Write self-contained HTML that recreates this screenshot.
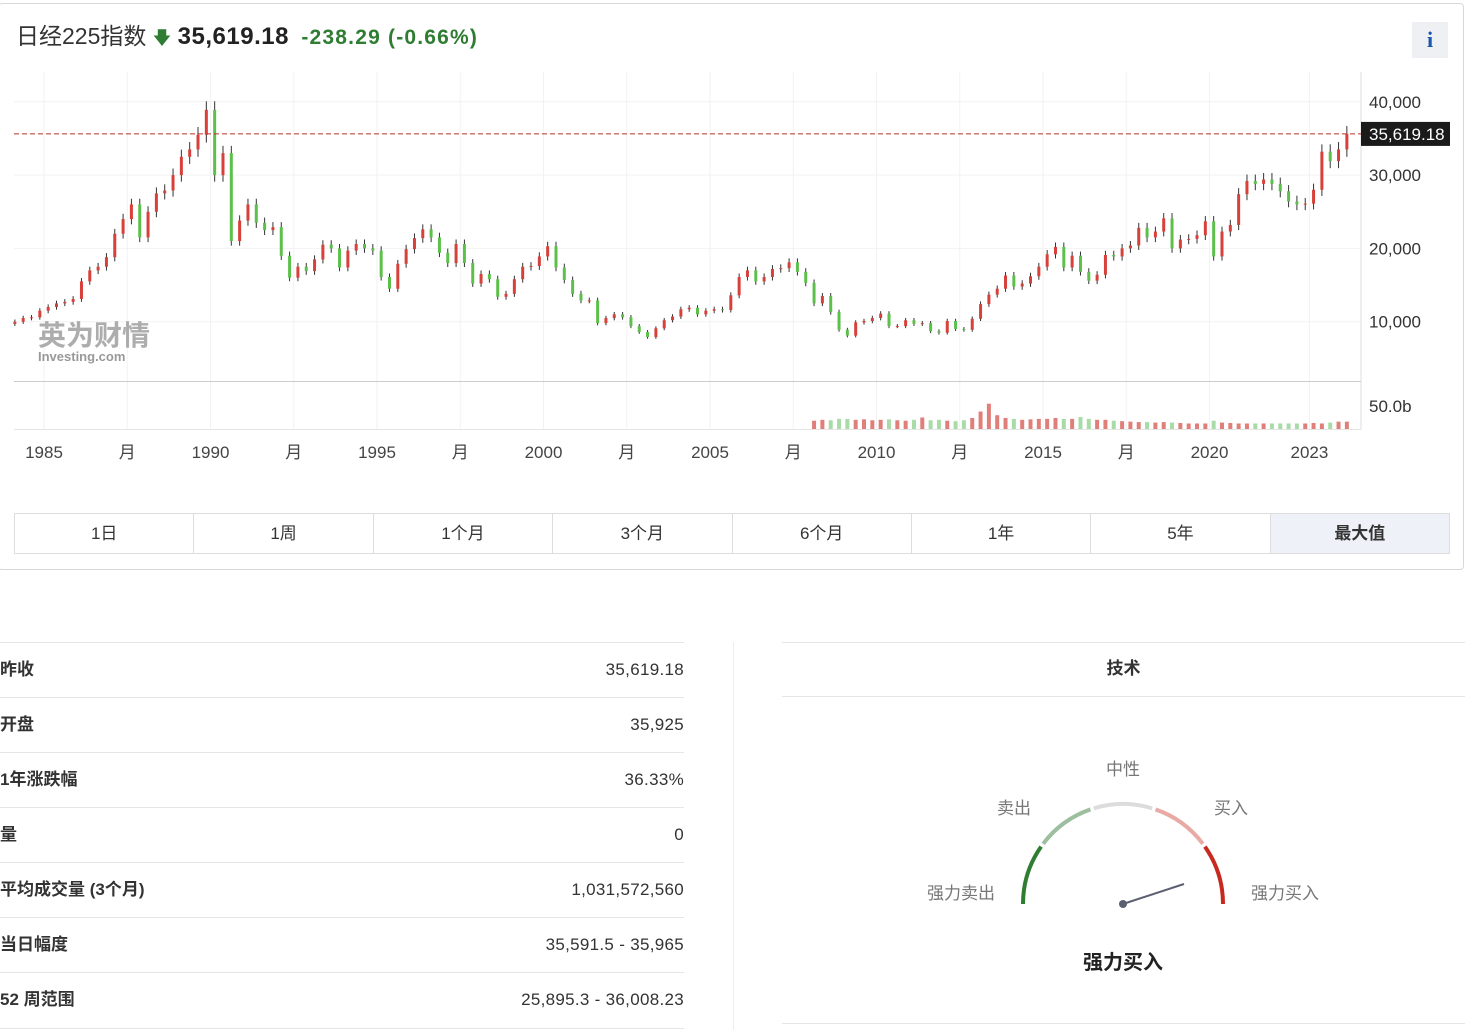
<!DOCTYPE html>
<html><head><meta charset="utf-8">
<style>
body{margin:0;width:1468px;height:1030px;background:#fff;font-family:"Liberation Sans","Noto Sans CJK SC",sans-serif;color:#333;position:relative;overflow:hidden}
.card{position:absolute;left:-2px;top:3px;width:1466px;height:567px;border:1px solid #d8d8d8;border-radius:4px;box-sizing:border-box}
.abs{position:absolute}
.btns{position:absolute;left:14px;top:513px;width:1436px;height:41px;display:flex;border:1px solid #ddd;box-sizing:border-box}
.btns div{flex:1;text-align:center;line-height:39px;font-size:17px;border-right:1px solid #ddd;color:#333}
.btns div:last-child{border-right:none;background:#eef2f8;font-weight:bold}
.row{position:absolute;left:0;width:684px;height:55px;border-top:1px solid #e6e6e6;font-size:17px;line-height:54px}
.row .k{position:absolute;left:0;font-weight:bold}
.row .v{position:absolute;right:0;letter-spacing:0.3px}
</style></head><body>
<div class="card"></div>
<div class="abs" style="left:16px;top:17px;font-size:23px;white-space:nowrap">
<span style="color:#333">日经225指数</span>
<span style="color:#2e7d32;font-size:18px">&#129095;</span>
<b style="color:#222;font-size:24px;letter-spacing:0.5px">35,619.18</b>
<b style="color:#2e7d32;font-size:21px;margin-left:6px;letter-spacing:1.2px">-238.29 (-0.66%)</b>
</div>
<div class="abs" style="left:1412px;top:22px;width:36px;height:36px;background:#eef0f3;color:#1a56b0;font:bold 22px 'Liberation Serif',serif;text-align:center;line-height:36px">i</div>

<svg class="abs" style="left:0;top:0" width="1468" height="480" id="chart"></svg>

<div class="btns">
<div>1日</div>
<div>1周</div>
<div>1个月</div>
<div>3个月</div>
<div>6个月</div>
<div>1年</div>
<div>5年</div>
<div>最大值</div>
</div>

<div>
<div class="row" style="top:642px"><span class="k">昨收</span><span class="v">35,619.18</span></div>
<div class="row" style="top:697px"><span class="k">开盘</span><span class="v">35,925</span></div>
<div class="row" style="top:752px"><span class="k">1年涨跌幅</span><span class="v">36.33%</span></div>
<div class="row" style="top:807px"><span class="k">量</span><span class="v">0</span></div>
<div class="row" style="top:862px"><span class="k">平均成交量 (3个月)</span><span class="v">1,031,572,560</span></div>
<div class="row" style="top:917px"><span class="k">当日幅度</span><span class="v">35,591.5 - 35,965</span></div>
<div class="row" style="top:972px;border-bottom:1px solid #e6e6e6"><span class="k">52 周范围</span><span class="v">25,895.3 - 36,008.23</span></div>
</div>
<div class="abs" style="left:733px;top:642px;width:1px;height:388px;background:#eee"></div>
<div class="abs" style="left:782px;top:642px;width:683px;height:53px;border-top:1px solid #e6e6e6;border-bottom:1px solid #e6e6e6;text-align:center;line-height:52px;font-weight:bold;font-size:17px">技术</div>
<div class="abs" style="left:782px;top:1023px;width:683px;height:1px;background:#e6e6e6"></div>
<svg class="abs" style="left:900px;top:740px" width="440" height="250" font-family="Liberation Sans,Noto Sans CJK SC,sans-serif">
<g id="gseg"></g>
<line x1="223" y1="164" x2="284" y2="144" stroke="#5a6070" stroke-width="2"/>
<circle cx="223" cy="164" r="4" fill="#5a6070"/>
<text x="223" y="35" text-anchor="middle" font-size="17" fill="#777">中性</text>
<text x="114" y="74" text-anchor="middle" font-size="17" fill="#777">卖出</text>
<text x="331" y="74" text-anchor="middle" font-size="17" fill="#777">买入</text>
<text x="61" y="159" text-anchor="middle" font-size="17" fill="#777">强力卖出</text>
<text x="385" y="159" text-anchor="middle" font-size="17" fill="#777">强力买入</text>
<text x="223" y="229" text-anchor="middle" font-size="20" font-weight="bold" fill="#222">强力买入</text>
</svg>

<script>
const prices=[10000,10500,10600,11500,12000,12500,12700,13100,15500,17000,17500,18800,22000,24000,26000,21500,25000,27500,27900,30000,32500,33500,35500,38900,30000,33000,21000,23800,26000,23500,22500,22900,19000,16000,17500,16900,18500,20500,20000,17400,19700,20600,20000,19700,16100,14500,17900,19900,21400,22600,21500,19400,18000,20600,18000,15200,16500,15800,13400,13800,15800,17500,17600,18900,20300,17400,15700,13800,12900,12900,9800,10500,11000,10600,9400,8600,7900,9100,10200,10700,11700,11900,11000,11500,11700,11600,13600,16100,17000,15500,16100,17200,17300,18100,16800,15300,12500,13500,11300,8900,8100,9900,10100,10500,11100,9400,9400,10200,9700,9800,8700,8500,10100,9000,8900,10400,12400,13700,14500,16300,14800,15200,16200,17500,19200,20200,17400,19000,16800,15600,16400,19100,18900,20000,20400,22800,21500,22300,24100,20000,21200,21300,21800,23700,18900,22300,23200,27400,29200,28800,29400,28800,27800,26400,26000,26100,28000,33200,31900,33500,35619];
const startYear=1984;
const volumes=[18,20,19,22,22,20,21,19,20,21,19,18,20,25,19,20,18,17,19,24,38,55,30,24,22,20,21,22,22,24,22,22,26,22,20,20,18,17,16,15,15,14,15,14,13,12,12,12,18,14,13,12,12,12,12,12,12,12,12,12,13,12,14,16,16];
const volStart=2008;
const priceTicks=[10000,20000,30000,40000];
const xLabels=[[1985,"1985"],[1987.5,"月"],[1990,"1990"],[1992.5,"月"],[1995,"1995"],[1997.5,"月"],[2000,"2000"],[2002.5,"月"],[2005,"2005"],[2007.5,"月"],[2010,"2010"],[2012.5,"月"],[2015,"2015"],[2017.5,"月"],[2020,"2020"],[2023,"2023"]];
const lastPrice=35619.18;

const svg=document.getElementById('chart');
const NS='http://www.w3.org/2000/svg';
const X=t=>44+(t-1985)*33.3;
const Y=v=>395-v*0.00733;
const VY=v=>429-v*0.46;
function mk(tag,a){const e=document.createElementNS(NS,tag);for(const k in a)e.setAttribute(k,a[k]);svg.appendChild(e);return e;}
for(let i=0;i<16;i++){mk('line',{x1:X(xLabels[i][0]),x2:X(xLabels[i][0]),y1:72,y2:429,stroke:'#f2f2f2'});}
priceTicks.forEach(v=>{const l=mk('line',{x1:14,x2:1360,y1:Y(v),y2:Y(v),stroke:'#f2f2f2'});


const t=mk('text',{x:1369,y:Y(v)+6,'font-size':17,fill:'#333'});t.textContent=v.toLocaleString('en-US');

});
mk('line',{x1:1361,x2:1361,y1:72,y2:429,stroke:'#ddd'});
mk('line',{x1:14,x2:1361,y1:381.5,y2:381.5,stroke:'#ccc'});
mk('line',{x1:14,x2:1361,y1:429.5,y2:429.5,stroke:'#e4e4e4'});
const vl=mk('text',{x:1369,y:412,'font-size':17,fill:'#333'});vl.textContent='50.0b';


xLabels.forEach(([t,s])=>{const e=mk('text',{x:X(t),y:458,'font-size':17,fill:'#444','text-anchor':'middle'});e.textContent=s;

});
prices.forEach((c,i)=>{const o=i?prices[i-1]:c*0.97;const up=c>=o;const col=up?'#d8403a':'#5cc04a';
const x=X(startYear+i/4+0.125);const hi=Math.max(o,c)*1.03,lo=Math.min(o,c)*0.97;
const w=mk('line',{x1:x,x2:x,y1:Y(hi),y2:Y(lo),stroke:'#333','stroke-width':1});


const r=mk('rect',{x:x-1.5,y:Y(Math.max(o,c)),width:3,height:Math.max(1,Math.abs(Y(o)-Y(c))),fill:col});

});
volumes.forEach((v,i)=>{const up=i?prices[(volStart-startYear)*4+i]>=prices[(volStart-startYear)*4+i-1]:true;
const r=mk('rect',{x:X(volStart+i/4+0.125)-2,y:VY(v),width:4,height:429-VY(v),fill:up?'#e07f7a':'#a8dba8'});

});
const dl=mk('line',{x1:14,x2:1361,y1:Y(lastPrice),y2:Y(lastPrice),stroke:'#c0302a','stroke-dasharray':'5,3'});


const lb=mk('rect',{x:1361,y:Y(lastPrice)-12,width:89,height:24,fill:'#1a1a1a'});


const lt=mk('text',{x:1369,y:Y(lastPrice)+6,'font-size':17,fill:'#fff'});lt.textContent='35,619.18';


const wm=mk('text',{x:38,y:345,'font-size':28,'font-weight':'bold',fill:'#999',opacity:0.8});wm.textContent='英为财情';


const wm2=mk('text',{x:38,y:361,'font-size':13,'font-weight':'bold',fill:'#999'});wm2.textContent='Investing.com';


const g=document.getElementById('gseg');const cols=['#2e7d32','#9dbf9f','#dcdcdc','#e8aaa5','#c8291f'];
const cx=223,cy=164,R=100;
cols.forEach((c,i)=>{const a1=Math.PI-(i*36+(i?1:0))*Math.PI/180,a2=Math.PI-((i+1)*36-(i<4?1:0))*Math.PI/180;
const p=document.createElementNS(NS,'path');
p.setAttribute('d',`M${cx+R*Math.cos(a1)} ${cy-R*Math.sin(a1)} A${R} ${R} 0 0 1 ${cx+R*Math.cos(a2)} ${cy-R*Math.sin(a2)}`);
p.setAttribute('stroke',c);p.setAttribute('stroke-width',4);p.setAttribute('fill','none');


g.appendChild(p);});
</script>
</body></html>
